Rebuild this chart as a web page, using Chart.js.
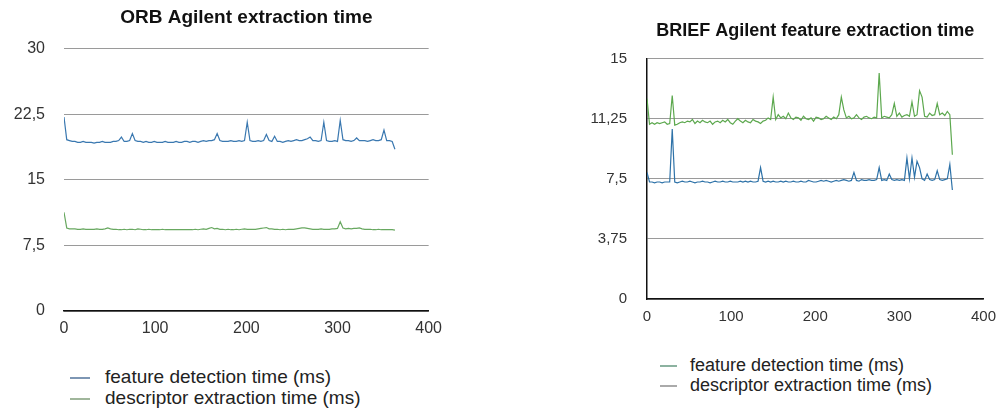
<!DOCTYPE html>
<html>
<head>
<meta charset="utf-8">
<title>Agilent extraction time</title>
<script src="https://cdn.jsdelivr.net/npm/chart.js@4.4.1/dist/chart.umd.min.js"></script>
<style>
  body { margin: 0; background: #fff; font-family: "Liberation Sans", Arial, sans-serif; }
  .box { position: absolute; top: 0; }
  #orbBox { left: 0; width: 450px; height: 342px; }
  #briefBox { left: 500px; width: 505px; height: 331px; }
  .legend { position: absolute; color: #222; }
  .legend div { white-space: nowrap; }
  .legend span { display: inline-block; vertical-align: middle; height: 2px; }
  #orbLegend { left: 70px; top: 366px; font-size: 19px; line-height: 21px; }
  #orbLegend span { width: 20px; margin-right: 15px; }
  #briefLegend { left: 660px; top: 355px; font-size: 18px; line-height: 20px; }
  #briefLegend span { width: 17px; margin-right: 13px; }
</style>
</head>
<body>
<div class="box" id="orbBox"><canvas id="orbChart"></canvas></div>
<div class="box" id="briefBox"><canvas id="briefChart"></canvas></div>
<div class="legend" id="orbLegend"></div>
<div class="legend" id="briefLegend"></div>
<script>
// series names
var seriesNames = ['feature detection time (ms)', 'descriptor extraction time (ms)'];

// one sample every 3 units along x
var sampleStep = 3;

// ORB chart, values in ms
var orbDetection = [
  22.2, 19.6, 19.5, 19.4, 19.4, 19.3, 19.3, 19.4, 19.3, 19.3,
  19.3, 19.2, 19.3, 19.3, 19.4, 19.3, 19.3, 19.3, 19.4, 19.4,
  19.5, 19.9, 19.4, 19.4, 19.5, 20.3, 19.5, 19.4, 19.4, 19.3,
  19.4, 19.3, 19.3, 19.4, 19.3, 19.3, 19.3, 19.4, 19.3, 19.3,
  19.3, 19.4, 19.3, 19.3, 19.4, 19.4, 19.3, 19.4, 19.4, 19.3,
  19.4, 19.5, 19.4, 19.5, 19.5, 19.6, 20.3, 19.5, 19.4, 19.4,
  19.4, 19.5, 19.4, 19.4, 19.5, 19.4, 19.5, 21.6, 19.5, 19.4,
  19.4, 19.5, 19.4, 19.5, 20.2, 19.5, 19.4, 20.0, 19.4, 19.4,
  19.3, 19.4, 19.5, 19.4, 19.5, 19.6, 19.5, 19.5, 19.6, 19.7,
  19.9, 19.5, 19.5, 19.4, 19.5, 21.6, 19.5, 19.4, 19.4, 19.5,
  19.4, 21.8, 19.6, 19.5, 19.5, 19.4, 19.5, 19.8, 19.5, 19.5,
  19.5, 19.4, 19.5, 19.6, 19.5, 19.5, 19.6, 20.7, 19.5, 19.5,
  19.4, 18.5
];
var orbDescriptor = [
  11.3, 9.5, 9.4, 9.4, 9.4, 9.35, 9.35, 9.4, 9.35, 9.35,
  9.35, 9.35, 9.4, 9.35, 9.35, 9.4, 9.5, 9.4, 9.35, 9.35,
  9.3, 9.3, 9.35, 9.3, 9.35, 9.35, 9.3, 9.4, 9.35, 9.3,
  9.3, 9.35, 9.3, 9.3, 9.3, 9.3, 9.35, 9.3, 9.3, 9.3,
  9.3, 9.3, 9.3, 9.3, 9.3, 9.3, 9.3, 9.3, 9.35, 9.3,
  9.35, 9.4, 9.35, 9.45, 9.55, 9.4, 9.45, 9.35, 9.35, 9.3,
  9.35, 9.3, 9.3, 9.35, 9.3, 9.35, 9.4, 9.35, 9.35, 9.35,
  9.35, 9.4, 9.45, 9.5, 9.55, 9.4, 9.4, 9.35, 9.35, 9.3,
  9.35, 9.3, 9.35, 9.35, 9.35, 9.4, 9.45, 9.5, 9.5, 9.45,
  9.4, 9.35, 9.35, 9.35, 9.4, 9.35, 9.35, 9.35, 9.4, 9.4,
  9.45, 10.2, 9.5, 9.4, 9.45, 9.4, 9.45, 9.45, 9.5, 9.4,
  9.35, 9.35, 9.35, 9.3, 9.3, 9.35, 9.3, 9.3, 9.3, 9.3,
  9.3, 9.25
];

// BRIEF chart, values in ms
var briefDetection = [
  12.5, 10.9, 11.0, 10.9, 11.0, 10.95, 11.0, 11.05, 10.9, 10.95,
  12.7, 10.85, 10.9, 11.0, 11.05, 11.0, 11.1, 11.05, 11.2, 10.95,
  11.1, 11.0, 11.15, 11.05, 11.0, 11.1, 10.9, 11.05, 11.1, 11.0,
  11.15, 11.05, 11.2, 11.0, 10.9, 11.1, 11.25, 11.1, 11.0, 11.15,
  11.05, 11.0, 11.2, 11.1, 11.05, 10.95, 11.1, 11.15, 11.3, 11.2,
  12.6, 11.2, 11.5, 11.3, 11.4, 11.25, 11.6, 11.3, 11.2, 11.35,
  11.3, 11.15, 11.4, 11.25, 11.2, 11.3, 11.1, 11.35, 11.3, 11.2,
  11.25, 11.4, 11.3, 11.2, 11.35, 11.25, 11.5, 12.6, 11.8, 11.3,
  11.4, 11.25, 11.3, 11.5, 11.3, 11.2, 11.35, 11.4, 11.3, 11.25,
  11.35, 11.3, 14.1, 11.3, 11.4, 11.35, 11.3, 11.5, 12.2, 11.4,
  11.6, 11.35, 11.45, 11.5, 11.4, 12.3, 11.4, 11.5, 13.0, 12.6,
  11.4, 11.35, 11.6, 11.45, 11.5, 12.2, 11.5, 11.6, 11.45, 11.7,
  11.5, 9.0
];
var briefDescriptor = [
  7.9, 7.3, 7.3, 7.25, 7.3, 7.3, 7.25, 7.3, 7.3, 7.3,
  10.6, 7.3, 7.25, 7.3, 7.35, 7.3, 7.3, 7.35, 7.3, 7.25,
  7.3, 7.3, 7.35, 7.3, 7.3, 7.25, 7.3, 7.35, 7.3, 7.3,
  7.35, 7.3, 7.3, 7.35, 7.3, 7.3, 7.3, 7.35, 7.3, 7.35,
  7.3, 7.35, 7.3, 7.3, 7.35, 8.2, 7.35, 7.3, 7.35, 7.3,
  7.35, 7.3, 7.3, 7.35, 7.3, 7.35, 7.3, 7.3, 7.35, 7.3,
  7.3, 7.35, 7.3, 7.3, 7.4, 7.35, 7.3, 7.3, 7.35, 7.4,
  7.35, 7.4, 7.35, 7.3, 7.35, 7.4, 7.35, 7.4, 7.45, 7.4,
  7.35, 7.4, 7.9, 7.4, 7.35, 7.45, 7.4, 7.4, 7.45, 7.4,
  7.4, 7.45, 8.2, 7.4, 7.45, 7.4, 7.8, 7.45, 7.4, 7.45,
  7.4, 7.45, 7.4, 8.8, 7.5, 8.8, 7.6, 8.6, 8.2, 7.5,
  7.4, 7.8, 7.45, 7.4, 7.45, 8.0, 7.45, 7.4, 7.45, 7.5,
  8.4, 6.8
];

function toPoints(values) {
  return values.map(function (v, i) { return { x: i * sampleStep, y: v }; });
}

function commaLabel(value) {
  return String(value).replace('.', ',');
}

function fixedWidth(w) {
  return function (scale) { scale.width = w; };
}

function fixedHeight(h) {
  return function (scale) { scale.height = h; };
}

function buildLegend(id, items) {
  var el = document.getElementById(id);
  items.forEach(function (item) {
    var row = document.createElement('div');
    var mark = document.createElement('span');
    mark.style.background = item.color;
    row.appendChild(mark);
    row.appendChild(document.createTextNode(item.text));
    el.appendChild(row);
  });
}

Chart.defaults.font.family = '"Liberation Sans", Arial, sans-serif';
Chart.defaults.color = '#222';

var orbChart = new Chart(document.getElementById('orbChart').getContext('2d'), {
    type: 'line',
    data: {
        datasets: [{
            label: seriesNames[0],
            data: toPoints(orbDetection),
            borderColor: 'rgb(58, 120, 176)',
            borderWidth: 1.2,
            pointRadius: 0
        }, {
            label: seriesNames[1],
            data: toPoints(orbDescriptor),
            borderColor: 'rgb(104, 168, 96)',
            borderWidth: 1.2,
            pointRadius: 0
        }]
    },
    options: {
      responsive: true,
      maintainAspectRatio: false,
      devicePixelRatio: 1,
      animation: false,
      layout: { padding: { left: 0, right: 19, bottom: 0 } },
      plugins: {
        legend: { display: false },
        tooltip: { enabled: false },
        title: {
          display: true,
          text: 'ORB Agilent extraction time',
          fullSize: false,
          color: '#111',
          font: { size: 19, weight: 'bold' },
          padding: { top: 6, bottom: 20 }
        }
      },
      scales: {
        x: {
          type: 'linear',
          min: 0,
          max: 400,
          afterFit: fixedHeight(31),
          grid: { display: false, drawTicks: false },
          border: { display: true, color: '#111', width: 1.5 },
          ticks: { stepSize: 100, padding: 8, font: { size: 16 }, color: '#333' }
        },
        y: {
          min: 0,
          max: 30,
          afterFit: fixedWidth(64),
          grid: { color: '#9a9a9a', drawTicks: false },
          border: { display: false },
          ticks: { stepSize: 7.5, padding: 19, font: { size: 16 }, color: '#333', callback: commaLabel }
        }
      }
    }
});

var briefChart = new Chart(document.getElementById('briefChart').getContext('2d'), {
    type: 'line',
    data: {
        datasets: [{
            label: seriesNames[0],
            data: toPoints(briefDetection),
            borderColor: 'rgb(92, 168, 78)',
            borderWidth: 1.2,
            pointRadius: 0
        }, {
            label: seriesNames[1],
            data: toPoints(briefDescriptor),
            borderColor: 'rgb(46, 114, 168)',
            borderWidth: 1.2,
            pointRadius: 0
        }]
    },
    options: {
      responsive: true,
      maintainAspectRatio: false,
      devicePixelRatio: 1,
      animation: false,
      layout: { padding: { left: 0, right: 15, bottom: 0 } },
      plugins: {
        legend: { display: false },
        tooltip: { enabled: false },
        title: {
          display: true,
          text: 'BRIEF Agilent feature extraction time',
          fullSize: false,
          color: '#111',
          font: { size: 18, weight: 'bold' },
          padding: { top: 20, bottom: 17 }
        }
      },
      scales: {
        x: {
          type: 'linear',
          min: 0,
          max: 400,
          afterFit: fixedHeight(32),
          grid: { display: false, drawTicks: false },
          border: { display: true, color: '#111', width: 1.5 },
          ticks: { stepSize: 100, padding: 9, font: { size: 15 }, color: '#333' }
        },
        y: {
          min: 0,
          max: 15,
          afterFit: fixedWidth(147),
          grid: { color: '#9a9a9a', drawTicks: false },
          border: { display: true, color: '#111', width: 1.5 },
          ticks: { stepSize: 3.75, padding: 20, font: { size: 15 }, color: '#333', callback: commaLabel }
        }
      }
    }
});

buildLegend('orbLegend', [
  { text: seriesNames[0], color: 'rgb(125, 150, 180)' },
  { text: seriesNames[1], color: 'rgb(160, 182, 155)' }
]);
buildLegend('briefLegend', [
  { text: seriesNames[0], color: 'rgb(140, 178, 160)' },
  { text: seriesNames[1], color: 'rgb(170, 170, 170)' }
]);
</script>
</body>
</html>
